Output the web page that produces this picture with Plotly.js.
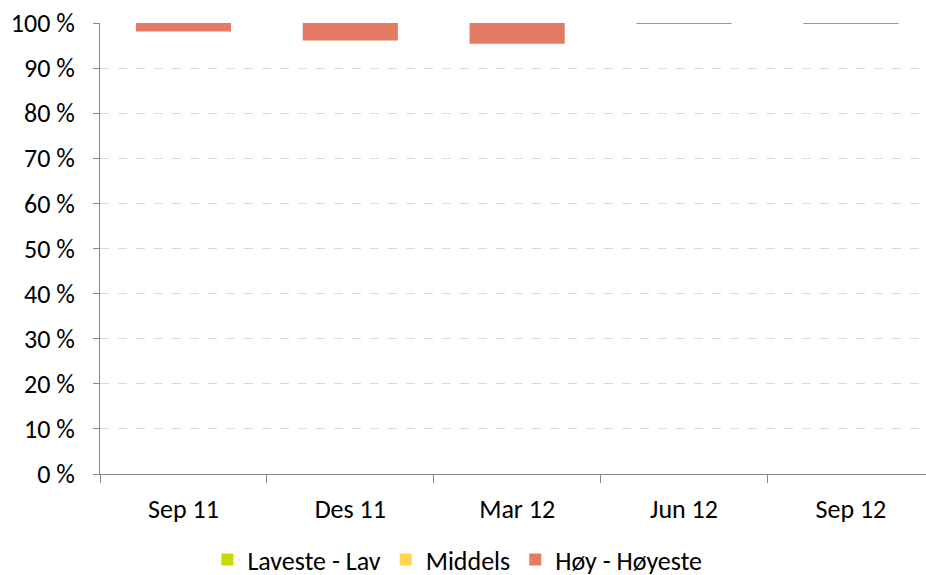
<!DOCTYPE html>
<html>
<head>
<meta charset="utf-8">
<script src="https://cdn.plot.ly/plotly-3.0.1.min.js"></script>
<style>html,body{margin:0;padding:0;background:#fff;overflow:hidden}#chart{width:926px;height:575px}</style>
</head>
<body>
<div id="chart"></div>
<script>
var categories = ["Sep 11", "Des 11", "Mar 12", "Jun 12", "Sep 12"];
var laveste = [0, 0, 0, 0, 0];
var middels = [0, 0, 0, 0, 0];
var hoy = [1.9, 3.9, 4.6, 0.2, 0.2];
var yTicks = [0, 10, 20, 30, 40, 50, 60, 70, 80, 90, 100];

var fontFam = "Carlito, Calibri, Lato, 'Open Sans', sans-serif";
var traces = [
  {type: 'bar', name: 'Laveste - Lav', x: categories, y: laveste, marker: {color: '#C6DA00', line: {width: 0}}, width: 0.57},
  {type: 'bar', name: 'Middels', x: categories, y: middels, marker: {color: '#FFD44F', line: {width: 0}}, width: 0.57},
  {type: 'bar', name: 'Høy - Høyeste', x: categories, y: hoy,
   base: hoy.map(function(v){return 100 - v;}),
   marker: {color: '#E47A62', line: {width: 0}}, width: 0.57}
];
var layout = {
  width: 926, height: 575,
  margin: {l: 100, r: 0, t: 23, b: 101, autoexpand: false},
  paper_bgcolor: '#fff', plot_bgcolor: '#fff',
  barmode: 'overlay',
  showlegend: true,
  font: {family: fontFam, size: 26, color: '#000'},
  xaxis: {
    type: 'category', range: [-0.5, 4.45],
    showline: true, linecolor: '#868686', linewidth: 1,
    ticks: 'outside', tickson: 'boundaries', ticklen: 8, tickcolor: '#868686',
    showgrid: false, zeroline: false, ticklabelstandoff: 12,
    tickfont: {family: fontFam, size: 26, color: '#000'}
  },
  yaxis: {
    range: [0, 100], tickvals: yTicks, ticktext: yTicks.map(function(v){return v + ' %';}),
    showline: true, linecolor: '#868686', linewidth: 1,
    ticks: 'outside', ticklen: 6, tickcolor: '#868686',
    showgrid: true, gridcolor: '#D9D9D9', griddash: 'dash', gridwidth: 1,
    zeroline: false, ticklabelstandoff: 13,
    tickfont: {family: fontFam, size: 26, color: '#000'}
  },
  legend: {
    orientation: 'h', x: 0.13, xanchor: 'left', y: -0.19, yanchor: 'middle',
    font: {family: fontFam, size: 26, color: '#000'},
    traceorder: 'normal', itemwidth: 30
  }
};
Plotly.newPlot('chart', traces, layout, {displayModeBar: false, staticPlot: true});
</script>
</body>
</html>
